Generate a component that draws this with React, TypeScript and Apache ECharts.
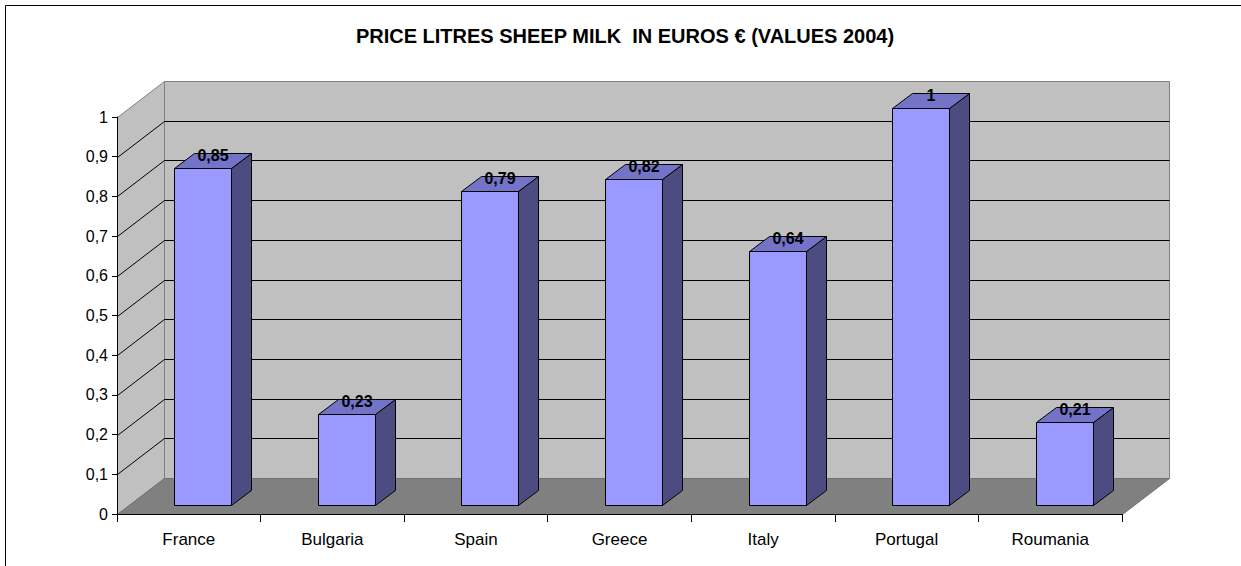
import React, { useEffect, useRef } from "react";
import * as echarts from "echarts";

const categories = ["France", "Bulgaria", "Spain", "Greece", "Italy", "Portugal", "Roumania"];
const prices = [0.85, 0.23, 0.79, 0.82, 0.64, 1, 0.21];
const gridValues = [0.1, 0.2, 0.3, 0.4, 0.5, 0.6, 0.7, 0.8, 0.9];
const titleText = "PRICE LITRES SHEEP MILK  IN EUROS \u20AC (VALUES 2004)";

const FONT = 'Arial, "Liberation Sans", sans-serif';
const DX = 47;
const DY = -36;
const BAR_OFF_X = 14;
const BAR_OFF_Y = -9;
const BAR_DX = 20;
const BAR_DY = -15;
const BAR_W = 0.4;

const fmt = (v: number) => String(Number(v.toFixed(2))).replace(".", ",");

export default function App() {
  const ref = useRef<HTMLDivElement>(null);
  useEffect(() => {
    if (!ref.current) return;
    const chart = echarts.init(ref.current, null, { renderer: "svg" });

    const wallsRender = (params: any, api: any) => {
      const bw = api.size([1, 0])[0];
      const o = api.coord([0, 0]);
      const x0 = Math.round(o[0] - bw / 2) + 0.5;
      const y0 = Math.round(o[1]) + 0.5;
      const x1 = Math.round(api.coord([categories.length - 1, 0])[0] + bw / 2) + 0.5;
      const yTop = Math.round(api.coord([0, 1])[1]) + 0.5;
      const children: any[] = [
        {
          type: "polygon",
          shape: { points: [[x0 + DX, yTop + DY], [x1 + DX, yTop + DY], [x1 + DX, y0 + DY], [x0 + DX, y0 + DY]] },
          style: { fill: "#C0C0C0", stroke: "#808080", lineWidth: 1 },
        },
        {
          type: "polygon",
          shape: { points: [[x0, yTop], [x0 + DX, yTop + DY], [x0 + DX, y0 + DY], [x0, y0]] },
          style: { fill: "#C0C0C0", stroke: "#808080", lineWidth: 1 },
        },
        {
          type: "polygon",
          shape: { points: [[x0, y0], [x0 + DX, y0 + DY], [x1 + DX, y0 + DY], [x1, y0]] },
          style: { fill: "#808080", stroke: "#707070", lineWidth: 1 },
        },
      ];
      gridValues.forEach((v) => {
        const y = Math.round(api.coord([0, v])[1]) + 0.5;
        children.push({
          type: "line",
          shape: { x1: x0 + DX, y1: y + DY, x2: x1 + DX, y2: y + DY },
          style: { stroke: "#000", lineWidth: 1 },
        });
        children.push({
          type: "line",
          shape: { x1: x0, y1: y, x2: x0 + DX, y2: y + DY },
          style: { stroke: "#000", lineWidth: 1 },
        });
      });
      return { type: "group", children };
    };

    const barsRender = (params: any, api: any) => {
      const i = api.value(0);
      const v = api.value(1);
      const bw = api.size([1, 0])[0];
      const base = api.coord([i, 0]);
      const top = api.coord([i, v]);
      const w = Math.round(bw * BAR_W);
      const fx = Math.round(base[0] + BAR_OFF_X - w / 2) + 0.5;
      const fyb = Math.round(base[1] + BAR_OFF_Y) + 0.5;
      const fyt = Math.round(top[1] + BAR_OFF_Y) + 0.5;
      return {
        type: "group",
        children: [
          {
            type: "polygon",
            shape: { points: [[fx + w, fyt], [fx + w + BAR_DX, fyt + BAR_DY], [fx + w + BAR_DX, fyb + BAR_DY], [fx + w, fyb]] },
            style: { fill: "#4C4C80", stroke: "#000", lineWidth: 1 },
          },
          {
            type: "polygon",
            shape: { points: [[fx, fyt], [fx + BAR_DX, fyt + BAR_DY], [fx + w + BAR_DX, fyt + BAR_DY], [fx + w, fyt]] },
            style: { fill: "#7373C8", stroke: "#000", lineWidth: 1 },
          },
          {
            type: "polygon",
            shape: { points: [[fx, fyt], [fx + w, fyt], [fx + w, fyb], [fx, fyb]] },
            style: { fill: "#9999FF", stroke: "#000", lineWidth: 1 },
          },
          {
            type: "text",
            x: fx + w / 2 + BAR_DX / 2,
            y: fyt + BAR_DY / 2 - 6,
            style: {
              text: fmt(v),
              align: "center",
              verticalAlign: "middle",
              font: `bold 16px ${FONT}`,
              fill: "#000",
            },
          },
        ],
      };
    };

    chart.setOption({
      animation: false,
      backgroundColor: "#fff",
      grid: { left: 117, top: 117, width: 1005, height: 397, containLabel: false },
      graphic: [
        {
          type: "rect",
          shape: { x: 5.5, y: 5.5, width: 1400, height: 700 },
          style: { fill: "none", stroke: "#000", lineWidth: 1 },
          z: 0,
        },
        {
          type: "text",
          x: 625,
          y: 36,
          style: {
            text: titleText,
            align: "center",
            verticalAlign: "middle",
            font: `bold 20px ${FONT}`,
            fill: "#000",
          },
        },
      ],
      xAxis: {
        type: "category",
        data: categories,
        z: 10,
        axisLine: { lineStyle: { color: "#000", width: 1 } },
        axisTick: { show: true, length: 8, lineStyle: { color: "#000" } },
        axisLabel: { color: "#000", fontSize: 17, fontFamily: FONT, margin: 17 },
        splitLine: { show: false },
      },
      yAxis: {
        type: "value",
        min: 0,
        max: 1,
        interval: 0.1,
        z: 10,
        axisLine: { show: true, lineStyle: { color: "#000", width: 1 } },
        axisTick: { show: true, length: 5, lineStyle: { color: "#000" } },
        axisLabel: { color: "#000", fontSize: 16, fontFamily: FONT, margin: 9, formatter: (v: number) => fmt(v) },
        splitLine: { show: false },
      },
      series: [
        {
          type: "custom",
          renderItem: wallsRender,
          data: [[0, 0]],
          silent: true,
          clip: false,
          z: 1,
        },
        {
          type: "custom",
          renderItem: barsRender,
          data: prices.map((v, i) => [i, v]),
          clip: false,
          z: 2,
        },
      ],
    });
    return () => chart.dispose();
  }, []);
  return <div ref={ref} style={{ position: "absolute", left: 0, top: 0, width: 1241, height: 566 }} />;
}
